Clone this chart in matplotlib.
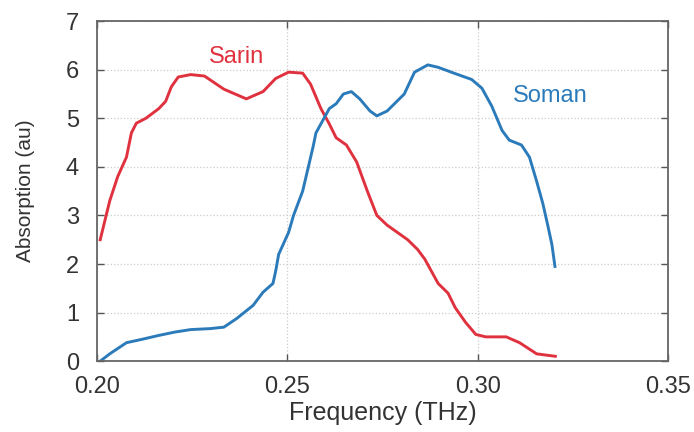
import matplotlib
matplotlib.use("Agg")
import matplotlib.pyplot as plt

plt.rcParams['font.family'] = ['Liberation Sans', 'DejaVu Sans']

# Sarin curve
sarin_x = [0.2008, 0.2033, 0.2054, 0.2077, 0.2090, 0.2103, 0.2128, 0.2162, 0.2180,
           0.2195, 0.2213, 0.2246, 0.2282, 0.2333, 0.2392, 0.2436, 0.2469, 0.2503,
           0.2540, 0.2561, 0.2588, 0.2609, 0.2628, 0.2655, 0.2682, 0.2710, 0.2735,
           0.2762, 0.2816, 0.2842, 0.2861, 0.2896, 0.2922, 0.2941, 0.2968, 0.2995,
           0.3021, 0.3075, 0.3110, 0.3155, 0.3204]
sarin_y = [2.5, 3.3, 3.8, 4.2, 4.7, 4.9, 5.0, 5.2, 5.35,
           5.65, 5.85, 5.9, 5.87, 5.6, 5.4, 5.55, 5.82, 5.95,
           5.93, 5.7, 5.2, 4.9, 4.6, 4.45, 4.1, 3.5, 3.0,
           2.8, 2.5, 2.3, 2.1, 1.6, 1.4, 1.1, 0.8, 0.55,
           0.5, 0.5, 0.38, 0.15, 0.1]

# Soman curve
soman_x = [0.2008, 0.2033, 0.2077, 0.2118, 0.2162, 0.2205, 0.2246, 0.2297, 0.2333,
           0.2367, 0.2410, 0.2436, 0.2462, 0.2469, 0.2477, 0.2503, 0.2516, 0.2540,
           0.2567, 0.2575, 0.2610, 0.2628, 0.2647, 0.2668, 0.2690, 0.2717, 0.2735,
           0.2762, 0.2807, 0.2834, 0.2869, 0.2896, 0.2941, 0.2984, 0.3011, 0.3037,
           0.3064, 0.3083, 0.3115, 0.3136, 0.3155, 0.3171, 0.3184, 0.3195, 0.3203]
soman_y = [0.0, 0.15, 0.38, 0.45, 0.53, 0.6, 0.65, 0.67, 0.7,
           0.88, 1.15, 1.42, 1.6, 1.85, 2.2, 2.65, 3.0, 3.5,
           4.4, 4.7, 5.2, 5.3, 5.5, 5.55, 5.4, 5.15, 5.05,
           5.15, 5.5, 5.95, 6.1, 6.05, 5.92, 5.8, 5.62, 5.25,
           4.75, 4.55, 4.45, 4.2, 3.7, 3.25, 2.8, 2.4, 1.95]

x_ticks = [0.20, 0.25, 0.30, 0.35]
x_tick_labels = ["0.20", "0.25", "0.30", "0.35"]
y_ticks = [0, 1, 2, 3, 4, 5, 6, 7]

red = "#e0313f"
blue = "#2b7bbb"

fig = plt.figure(figsize=(6.94, 4.32), dpi=100)
ax = fig.add_axes([0.14, 0.164, 0.8225, 0.787])

ax.plot(sarin_x, sarin_y, color=red, lw=2.1)
ax.plot(soman_x, soman_y, color=blue, lw=2.1)

# etiquettes des courbes
ax.text(0.2367, 6.26, "Sarin", color=red, fontsize=17, ha="center", va="center")
ax.text(0.319, 5.45, "Soman", color=blue, fontsize=17, ha="center", va="center")

ax.set_xlim(0.20, 0.35)
ax.set_ylim(0, 7)
ax.set_xticks(x_ticks)
ax.set_xticklabels(x_tick_labels)
ax.set_yticks(y_ticks)
ax.grid(True, color="#cccccc", linestyle=":", lw=0.9)
ax.tick_params(direction="in", length=5, width=1, colors="#555555", labelsize=17,
               labelcolor="#333333", top=True, right=True)
ax.tick_params(axis="y", pad=13)
ax.tick_params(axis="x", pad=10.5)
for s in ax.spines.values():
    s.set_color("#666666")
    s.set_linewidth(1.3)

ax.set_xlabel("Frequency (THz)", fontsize=18, color="#333333", labelpad=2.5)
ax.set_ylabel("Absorption (au)", fontsize=15, color="#333333", labelpad=22)

fig.savefig("out.png", dpi=100)
